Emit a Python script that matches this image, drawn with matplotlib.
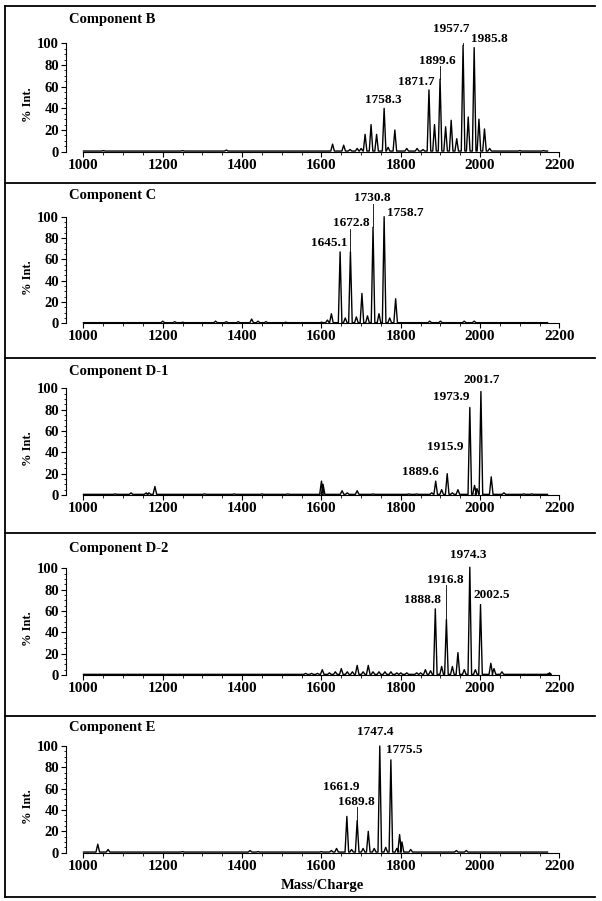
import matplotlib.pyplot as plt
from matplotlib.lines import Line2D
from matplotlib.ticker import FixedLocator

W, H = 602, 901
plt.rcParams['font.family'] = ['Liberation Serif', 'DejaVu Serif']
plt.rcParams['font.weight'] = 'bold'

# ---- peak lists (m/z, % intensity) ----
b_mz = [1050, 1250, 1360, 1628, 1656, 1672, 1690, 1700, 1710, 1725, 1739, 1758,
        1768, 1785, 1815, 1841, 1856, 1871, 1885, 1899, 1913, 1927, 1941, 1957,
        1970, 1985, 1997, 2011, 2024, 2100, 2160]
b_int = [1, 1, 1.5, 7, 6, 2, 3, 3, 16, 25, 16, 40,
         4, 20, 3, 3, 2, 57, 25, 67, 23, 29, 12, 98,
         32, 96, 30, 21, 3, 1, 1]
b_labels = ['1758.3', '1871.7', '1899.6', '1957.7', '1985.8']
b_leaders = [(1899, 79), (1957, 100.5)]

c_mz = [1200, 1230, 1250, 1333, 1360, 1390, 1424, 1440, 1460, 1510, 1600, 1615,
        1625, 1647, 1660, 1673, 1688, 1702, 1716, 1730, 1745, 1758, 1772, 1787,
        1873, 1900, 1960, 1985]
c_int = [2, 1.5, 1, 2, 1.5, 1.5, 4, 2, 1.5, 1, 1, 3,
         9, 67, 5, 67, 6, 28, 7, 90, 9, 100, 5, 23,
         2, 2, 2, 2]
c_labels = ['1645.1', '1672.8', '1730.8', '1758.7']
c_leaders = [(1673, 88), (1730, 112)]

d1_mz = [1080, 1120, 1158, 1165, 1180, 1305, 1380, 1450, 1515, 1600, 1604, 1652,
         1665, 1690, 1730, 1820, 1840, 1878, 1888, 1903, 1917, 1930, 1944, 1974,
         1986, 1992, 2002, 2028, 2060, 2110, 2130]
d1_int = [1, 2, 2, 2, 8, 1, 1, 1, 1, 13, 10, 4,
          2, 4, 1, 1, 1, 2, 13, 5, 20, 2, 5, 82,
          9, 6, 97, 17, 2, 1, 1]
d1_labels = ['1889.6', '1915.9', '1973.9', '2001.7']
d1_leaders = []

d2_mz = [1560, 1575, 1590, 1602, 1620, 1635, 1650, 1665, 1678, 1690, 1705, 1718,
         1730, 1745, 1760, 1775, 1790, 1800, 1815, 1840, 1850, 1862, 1875, 1887,
         1903, 1915, 1930, 1944, 1960, 1974, 1988, 2001, 2027, 2035, 2055, 2175]
d2_int = [1.5, 1.5, 1.5, 5, 2, 3, 6, 3, 3, 9, 3, 9,
          3, 3, 3, 3, 2, 2, 2, 2, 2, 5, 4, 62,
          8, 52, 8, 21, 5, 101, 5, 66, 11, 6, 3, 2]
d2_labels = ['1888.8', '1916.8', '1974.3', '2002.5']
d2_leaders = [(1915, 84)]

e_mz = [1036, 1062, 1250, 1420, 1440, 1600, 1625, 1638, 1664, 1676, 1690, 1705,
        1718, 1733, 1747, 1762, 1775, 1790, 1797, 1803, 1825, 1940, 1965]
e_int = [8, 3, 1, 2, 1, 1, 2, 4, 34, 3, 30, 4,
         20, 4, 100, 5, 87, 4, 17, 10, 3, 2, 2]
e_labels = ['1661.9', '1689.8', '1747.4', '1775.5']
e_leaders = [(1690, 43)]

x_ticks = [1000, 1200, 1400, 1600, 1800, 2000, 2200]
y_ticks = [0, 20, 40, 60, 80, 100]

# ---- layout (pixels of the 602x901 picture) ----
b_label_pos = [(1755, 45), (1839, 61.5), (1893, 80.5), (1927, 110), (2023, 101)]
c_label_pos = [(1620, 72.5), (1675, 91.6), (1727, 115), (1811, 100.6)]
d1_label_pos = [(1850, 18.7), (1913, 42), (1927, 89), (2005, 104.7)]
d2_label_pos = [(1854, 67.2), (1911, 86.5), (1971, 109.4), (2030, 71.9)]
e_label_pos = [(1649, 58.8), (1687, 44.7), (1736, 110), (1809, 93.1)]

panels = [
    ('Component B', b_mz, b_int, b_labels, b_label_pos, b_leaders, 151.7, 43.3, 20),
    ('Component C', c_mz, c_int, c_labels, c_label_pos, c_leaders, 323.3, 216.7, 195),
    ('Component D-1', d1_mz, d1_int, d1_labels, d1_label_pos, d1_leaders, 495, 388.3, 371.5),
    ('Component D-2', d2_mz, d2_int, d2_labels, d2_label_pos, d2_leaders, 675, 568.3, 548.3),
    ('Component E', e_mz, e_int, e_labels, e_label_pos, e_leaders, 852.7, 746, 727.3),
]
separators = [5.5, 182.7, 358.3, 533.3, 716, 897]

XL, XR = 955.9, 2215
AX_L, AX_R = 66, 565.4
HW = 4.5      # half width of a drawn peak, m/z units
BASE = 0.6

fig = plt.figure(figsize=(W / 100, H / 100), dpi=100)

for title, mz, inten, labels, label_pos, leaders, y0, y100, ty in panels:
    top = y0 - 1.25 * (y0 - y100)
    ax = fig.add_axes([AX_L / W, 1 - y0 / H, (AX_R - AX_L) / W, (y0 - top) / H])
    ax.set_xlim(XL, XR)
    ax.set_ylim(0, 125)

    xs, ys = [1000], [BASE]
    for m, h in sorted(zip(mz, inten)):
        xs += [m - HW, m, m + HW]
        ys += [BASE, h, BASE]
    xs.append(2170)
    ys.append(BASE)
    ax.plot(xs, ys, color='black', lw=1.0, clip_on=False)

    peak_h = dict(zip(mz, inten))
    for m, t in leaders:
        ax.plot([m, m], [peak_h[m], t], color='black', lw=0.6)

    for txt, (lx, ly) in zip(labels, label_pos):
        ax.text(lx, ly, txt, ha='center', va='baseline', fontsize=9.5,
                fontweight='bold', clip_on=False)

    for s in ['top', 'right']:
        ax.spines[s].set_visible(False)
    ax.spines['left'].set_bounds(0, 100)
    ax.spines['bottom'].set_bounds(1000, 2200)
    ax.spines['left'].set_linewidth(0.8)
    ax.spines['bottom'].set_linewidth(0.8)
    ax.set_xticks(x_ticks)
    ax.set_yticks(y_ticks)
    ax.xaxis.set_minor_locator(FixedLocator(range(1050, 2200, 50)))
    ax.yaxis.set_minor_locator(FixedLocator(range(5, 100, 5)))
    ax.tick_params(which='major', direction='out', length=3.5, width=0.8, pad=1.5)
    ax.tick_params(axis='x', labelsize=11)
    ax.tick_params(axis='y', labelsize=10.5)
    ax.tick_params(which='minor', direction='out', length=1.8, width=0.6)
    for lab in ax.get_xticklabels() + ax.get_yticklabels():
        lab.set_fontweight('bold')

    fig.text(69 / W, 1 - ty / H, title, ha='left', va='center', fontsize=10.5,
             fontweight='bold')
    fig.text(28 / W, 1 - (y0 - 0.43 * (y0 - y100)) / H, '% Int.', rotation=90,
             ha='center', va='center', fontsize=9, fontweight='bold')

fig.text(322 / W, 1 - 885 / H, 'Mass/Charge', ha='center', va='center',
         fontsize=10.5, fontweight='bold')

for sy in separators:
    fig.add_artist(Line2D([5 / W, 595 / W], [1 - sy / H, 1 - sy / H],
                          color='black', lw=1.3))
fig.add_artist(Line2D([5.3 / W, 5.3 / W], [1 - 5.5 / H, 1 - 897 / H],
                      color='black', lw=1.3))

fig.savefig('out.png', dpi=100)
